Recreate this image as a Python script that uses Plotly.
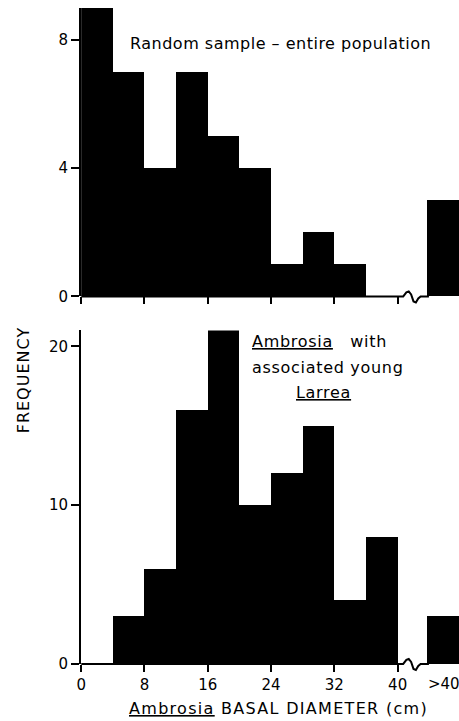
import plotly.graph_objects as go

# ---- data ----
bin_left = [0, 4, 8, 12, 16, 20, 24, 28, 32, 36]          # bin lower edges (cm), width 4
top_counts = [9, 7, 4, 7, 5, 4, 1, 2, 1, 0]                # random sample - entire population
bottom_counts = [0, 3, 6, 16, 21, 10, 12, 15, 4, 8]        # Ambrosia with associated young Larrea
over40_top = [3]
over40_bottom = [3]
x_tickvals = [0, 8, 16, 24, 32, 40]
x_ticktext = ["0", "8", "16", "24", "32", "40"]
top_yticks = [0, 4, 8]
bottom_yticks = [0, 10, 20]

# ---- layout constants ----
W, H = 459, 721          # reference picture size (positions below are measured in it)
FIG_H = 731              # figure height used for the page
BIN_W = 4
OVER_X = 43.75
FONT = "DejaVu Sans"

def py(p):
    return 1 - p / H

def px(p):
    return p / W

fig = go.Figure()
bar_style = dict(marker=dict(color="black", line=dict(width=0)), width=BIN_W, offset=0,
                 hoverinfo="skip", showlegend=False)
fig.add_trace(go.Bar(x=bin_left, y=top_counts, xaxis="x2", yaxis="y2", **bar_style))
fig.add_trace(go.Bar(x=[OVER_X], y=over40_top, xaxis="x2", yaxis="y2", **bar_style))
fig.add_trace(go.Bar(x=bin_left, y=bottom_counts, xaxis="x", yaxis="y", **bar_style))
fig.add_trace(go.Bar(x=[OVER_X], y=over40_bottom, xaxis="x", yaxis="y", **bar_style))

xdom = [px(77), 1]
xr = [0, 47.75]
common_x = dict(domain=xdom, range=xr, tickvals=x_tickvals, ticks="outside", ticklen=7,
                tickwidth=2, tickcolor="black", showline=False, zeroline=False,
                showgrid=False, fixedrange=True)
common_y = dict(ticks="outside", ticklen=8, tickwidth=2, tickcolor="black", showline=True,
                linewidth=2, linecolor="black", zeroline=False, showgrid=False,
                tickfont=dict(family=FONT, size=15, color="black"), fixedrange=True)

fig.update_layout(
    width=W, height=FIG_H, margin=dict(l=0, r=0, t=0, b=0),
    paper_bgcolor="white", plot_bgcolor="white", bargap=0, barmode="overlay",
    xaxis=dict(anchor="y", ticktext=x_ticktext, tickfont=dict(family=FONT, size=15, color="black"),
               **common_x),
    xaxis2=dict(anchor="y2", showticklabels=False, **common_x),
    yaxis=dict(anchor="x", domain=[py(663), py(330)], range=[0, 21], tickvals=bottom_yticks, **common_y),
    yaxis2=dict(anchor="x2", domain=[py(296), py(8)], range=[0, 9], tickvals=top_yticks, **common_y),
)

# baseline with axis-break squiggle (offsets in pixels)
def baseline(xref, base_px):
    pts = [(0, 0), (40.7, 0), (41.1, -4), (41.4, -5), (41.7, -2), (42.0, 5), (42.3, 6),
           (42.6, 2), (42.9, 0), (OVER_X + 0.2, 0)]
    d = "M " + " L ".join(f"{x},{py(base_px + dy)}" for x, dy in pts)
    return dict(type="path", path=d, xref=xref, yref="paper",
                line=dict(color="black", width=2), layer="above")

fig.add_shape(**baseline("x2", 296))
fig.add_shape(**baseline("x", 663))

def sp(text, ls):
    return f"<span style='letter-spacing:{ls}px'>{text}</span>"

annotations = [
    dict(text=sp("Random sample – entire population", 0.5), x=px(279), y=py(43)),
    dict(text=sp("<u>Ambrosia</u>   with", 0.7), x=px(318), y=py(341)),
    dict(text=sp("associated young", 0.7), x=px(327), y=py(367)),
    dict(text=sp("<u>Larrea</u>", 0.7), x=px(322), y=py(392)),
    dict(text=">40", x=px(444), y=py(683), size=15),
    dict(text=sp("<u>Ambrosia</u> BASAL DIAMETER (cm)", 1.3), x=px(277), y=py(708)),
    dict(text=sp("FREQUENCY", 1.0), x=px(19), y=py(380), textangle=-90),
]
for a in annotations:
    size = a.pop("size", 16)
    fig.add_annotation(xref="paper", yref="paper", xanchor="center", yanchor="middle",
                       showarrow=False, font=dict(family=FONT, size=size, color="black"), **a)

fig.write_html(
    "out.html",
    config={"displayModeBar": False, "staticPlot": True},
    post_script="document.body.style.margin='0';document.body.style.overflow='hidden';"
                "document.documentElement.style.overflow='hidden';",
)
